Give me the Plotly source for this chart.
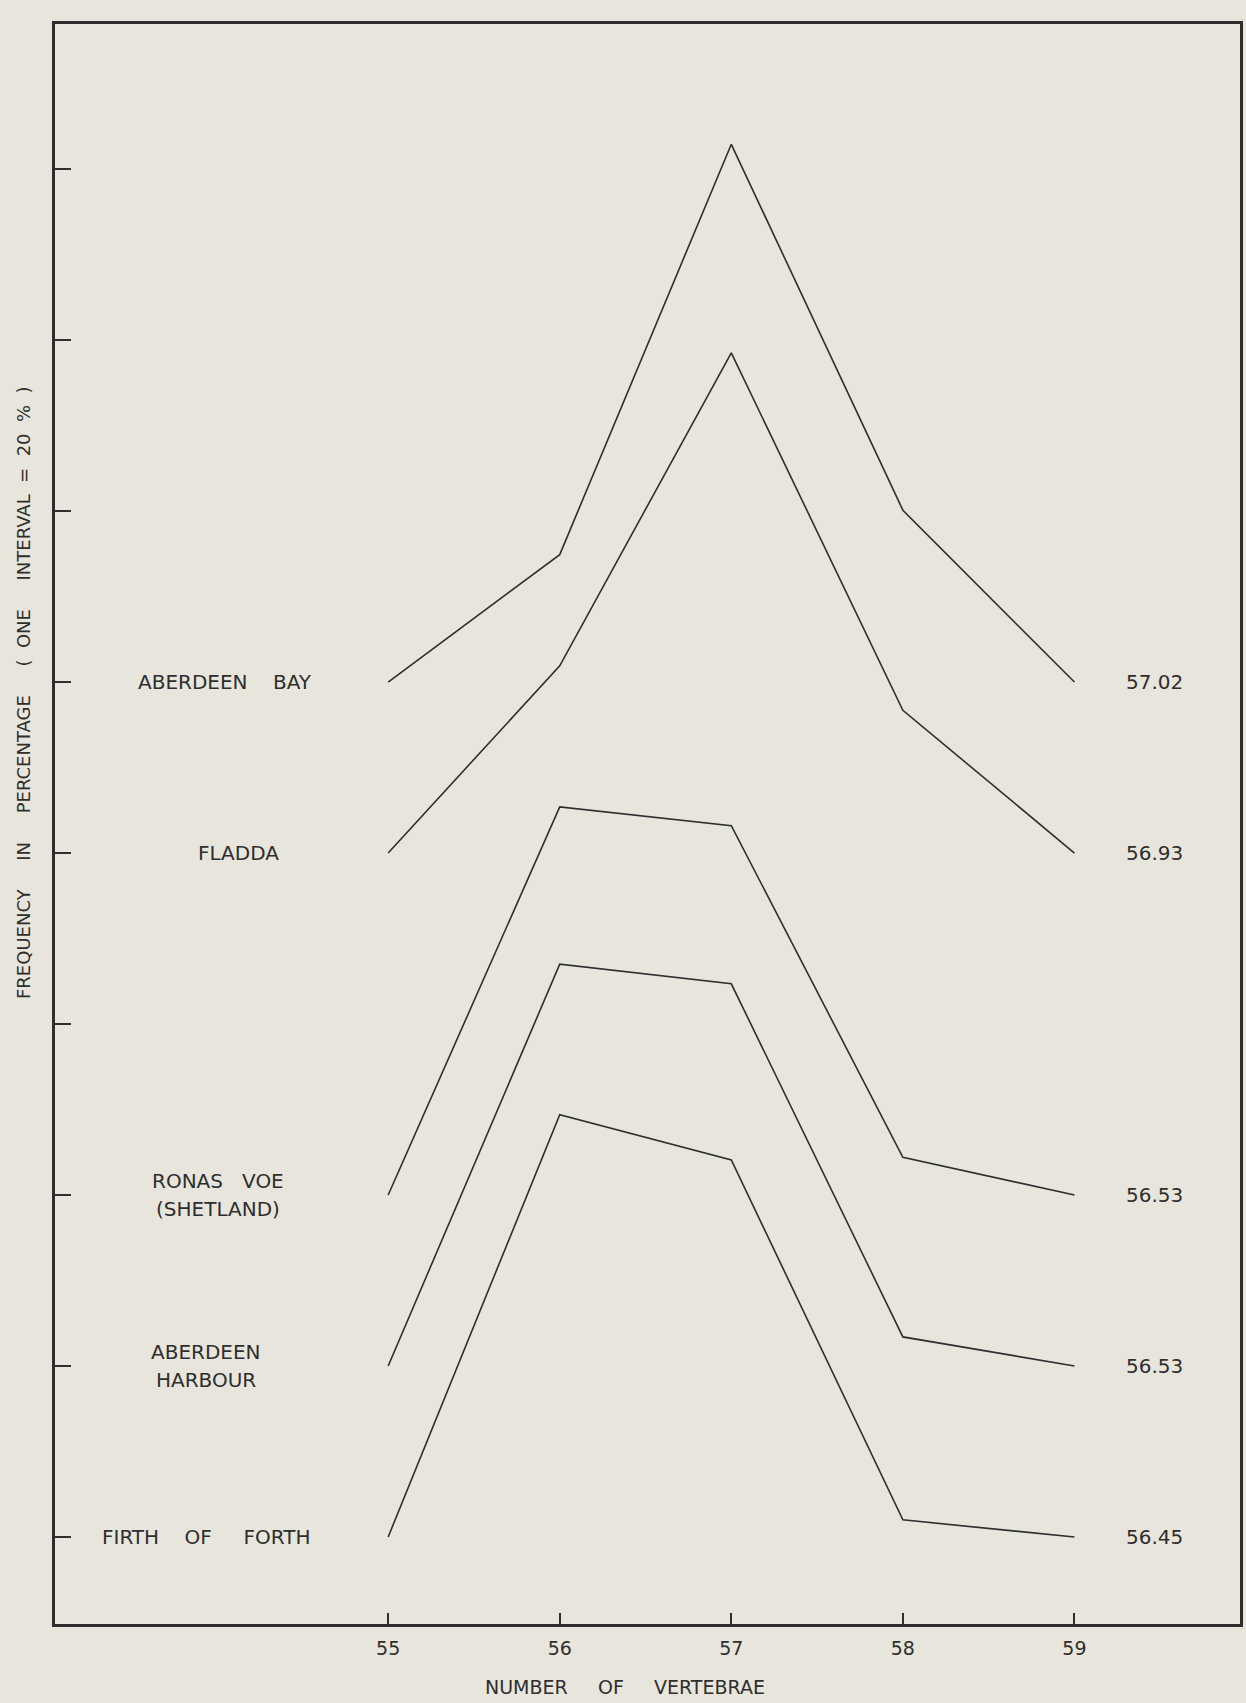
import plotly.graph_objects as go

# Number of vertebrae (x categories)
vertebrae = [55, 56, 57, 58, 59]

# Frequency in percentage for each locality, one value per vertebral count
aberdeen_bay = [0, 14.9, 62.9, 20.1, 0]
fladda = [0, 21.9, 58.5, 16.7, 0]
ronas_voe = [0, 45.4, 43.2, 4.4, 0]
aberdeen_harbour = [0, 47.0, 44.7, 3.4, 0]
firth_of_forth = [0, 49.4, 44.1, 2.0, 0]

# Vertical offset (in %) at which each polygon is drawn
baselines = [100, 80, 40, 20, 0]

NB = "\u00a0"

# Locality names (one entry per printed line) and mean vertebral counts
locality_lines = [
    ["ABERDEEN" + NB * 4 + "BAY"],
    ["FLADDA"],
    ["RONAS" + NB * 3 + "VOE", "(SHETLAND)"],
    ["ABERDEEN", "HARBOUR"],
    ["FIRTH" + NB * 4 + "OF" + NB * 5 + "FORTH"],
]
mean_vertebrae = ["57.02", "56.93", "56.53", "56.53", "56.45"]

# y-axis ticks: one interval = 20 %
y_ticks = [0, 20, 40, 60, 80, 100, 120, 140, 160]

series = [aberdeen_bay, fladda, ronas_voe, aberdeen_harbour, firth_of_forth]

INK = "#2e2e2e"
PAPER = "#e8e6dc"
FONT = "DejaVu Sans"

fig = go.Figure()

for values, base in zip(series, baselines):
    fig.add_trace(go.Scatter(
        x=vertebrae,
        y=[base + v for v in values],
        mode="lines",
        line=dict(color=INK, width=1.6),
        showlegend=False,
        hoverinfo="skip",
    ))

# Locality names to the left of each polygon
label_x = [54.05, 54.13, 54.01, 53.94, 53.94]
line_step = 3.3  # spacing between the lines of a two-line label, in y units
for lines, base, lx in zip(locality_lines, baselines, label_x):
    n = len(lines)
    for i, txt in enumerate(lines):
        offset = (n - 1) / 2 * line_step - i * line_step
        fig.add_annotation(
            x=lx, y=base + offset, xref="x", yref="y",
            text=txt, showarrow=False,
            font=dict(family=FONT, size=20, color=INK),
            xanchor="center", yanchor="middle",
        )

# Mean vertebral count to the right of each polygon
for mean, base in zip(mean_vertebrae, baselines):
    fig.add_annotation(
        x=59.465, y=base, xref="x", yref="y",
        text=mean, showarrow=False,
        font=dict(family=FONT, size=20, color=INK),
        xanchor="center", yanchor="middle",
    )

# Axis titles
fig.add_annotation(
    x=0.481, y=-0.0395, xref="paper", yref="paper",
    text="NUMBER" + NB * 5 + "OF" + NB * 5 + "VERTEBRAE",
    showarrow=False, font=dict(family=FONT, size=19, color=INK),
    xanchor="center", yanchor="middle",
)
fig.add_annotation(
    x=-0.026, y=0.582, xref="paper", yref="paper",
    text=("FREQUENCY" + NB * 5 + "IN" + NB * 5 + "PERCENTAGE" + NB * 5 + "(" + NB * 2
          + "ONE" + NB * 5 + "INTERVAL" + NB * 2 + "=" + NB * 2 + "20" + NB * 2 + "%" + NB * 2 + ")"),
    textangle=-90, showarrow=False,
    font=dict(family=FONT, size=18, color=INK),
    xanchor="center", yanchor="middle",
)

fig.update_xaxes(
    range=[53.058, 59.965],
    tickvals=vertebrae,
    ticktext=[str(v) for v in vertebrae],
    ticks="inside", ticklen=11, tickwidth=1.5, tickcolor=INK,
    tickfont=dict(family=FONT, size=19, color=INK),
    ticklabelstandoff=5,
    showline=True, linewidth=3, linecolor=INK, mirror=True,
    showgrid=False, zeroline=False,
)
fig.update_yaxes(
    range=[-10.18, 176.97],
    tickvals=y_ticks,
    showticklabels=False,
    ticks="inside", ticklen=16, tickwidth=1.5, tickcolor=INK,
    showline=True, linewidth=3, linecolor=INK, mirror=True,
    showgrid=False, zeroline=False,
)

fig.update_layout(
    width=1246, height=1703,
    margin=dict(l=55, r=3, t=24, b=79),
    paper_bgcolor=PAPER, plot_bgcolor=PAPER,
    showlegend=False,
)

fig.write_html("out.html")
